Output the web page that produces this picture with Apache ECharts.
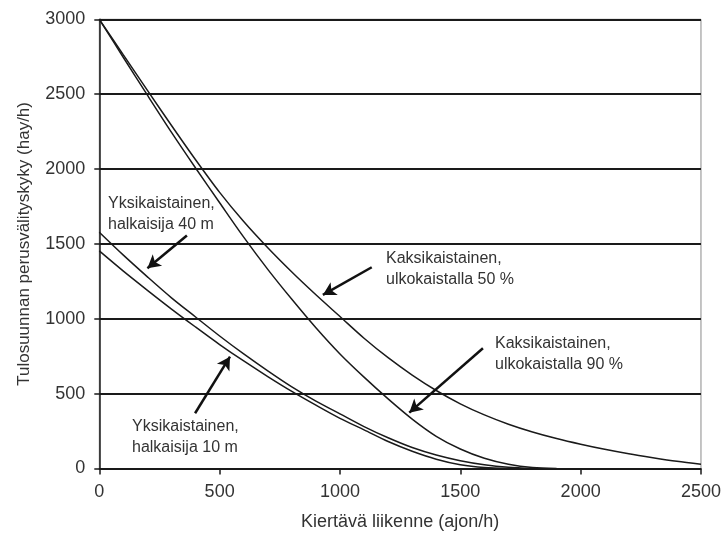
<!DOCTYPE html>
<html>
<head>
<meta charset="utf-8">
<script src="https://cdn.jsdelivr.net/npm/echarts@6/dist/echarts.min.js"></script>
<style>
html,body{margin:0;padding:0;background:#fff;}
#chart{width:724px;height:540px;}
</style>
</head>
<body>
<div id="chart"></div>
<script>
// Kiertävä liikenne (ajon/h)
var xs = [0,100,200,300,400,500,600,700,800,900,1000,1100,1200,1300,1400,1500,1600,1700,1800,1900,2000,2100,2200,2300,2400,2500];
// Kaksikaistainen, ulkokaistalla 50 %
var kaksi50 = [3000,2762,2525,2291,2062,1844,1649,1474,1312,1160,1015,870,740,624,521,432,358,296,244,200,162,128,98,72,48,28];
// Kaksikaistainen, ulkokaistalla 90 %
var kaksi90 = [3000,2745,2493,2245,2007,1775,1545,1330,1130,940,765,610,465,330,215,130,68,28,6,0];
// Yksikaistainen, halkaisija 40 m
var yksi40 = [1578,1425,1280,1140,1012,885,765,652,545,450,365,280,205,140,90,52,25,8,0];
// Yksikaistainen, halkaisija 10 m
var yksi10 = [1453,1318,1190,1065,945,828,718,614,515,423,335,258,180,115,62,25,6,0];

var xTicks = [0,500,1000,1500,2000,2500];
var yTicks = [0,500,1000,1500,2000,2500,3000];

// annotations: text lines and arrow [tail, head] in data units
var notes = [
  {lines:['Yksikaistainen,','halkaisija 40 m'], tail:[364,1556], head:[200,1337]},
  {lines:['Kaksikaistainen,','ulkokaistalla 50 %'], tail:[1132,1344], head:[929,1159]},
  {lines:['Kaksikaistainen,','ulkokaistalla 90 %'], tail:[1594,803], head:[1288,373]},
  {lines:['Yksikaistainen,','halkaisija 10 m'], tail:[398,369], head:[543,747]}
];
var noteText = [
  {x:108, y:205},
  {x:386, y:260},
  {x:495, y:345},
  {x:132, y:428}
];

function pairs(vals){ return vals.map(function(v,i){ return [xs[i], v]; }); }

var font = 'Liberation Sans, Arial, sans-serif';
var chart = echarts.init(document.getElementById('chart'), null, {renderer:'canvas'});

var arrowLines = notes.map(function(n){ return [{coord:n.tail},{coord:n.head}]; });

var lineStyle = {color:'#1a1a1a', width:1.5};
function mk(name, vals, extra){
  var s = {name:name, type:'line', data:pairs(vals), symbol:'none', smooth:0.3,
    lineStyle:lineStyle, silent:true, z:3};
  if (extra) for (var k in extra) s[k]=extra[k];
  return s;
}

var graphics = [];
notes.forEach(function(n, i){
  n.lines.forEach(function(t, j){
    graphics.push({type:'text', left:noteText[i].x, top:noteText[i].y - 9 + j*21,
      style:{text:t, font:'16px ' + font, fill:'#333'}, z:10});
  });
});

chart.setOption({
  animation:false,
  backgroundColor:'#fff',
  grid:{left:99.3, right:22.5, top:19.3, bottom:71.5, show:true, borderColor:'#8a8a8a', borderWidth:1},
  xAxis:{type:'value', min:0, max:2500, interval:500,
    name:'Kiertävä liikenne (ajon/h)', nameLocation:'middle', nameGap:45,
    nameTextStyle:{fontFamily:font, fontSize:18, color:'#333'},
    axisLine:{show:true, onZero:false, lineStyle:{color:'#1a1a1a', width:1.5}},
    axisTick:{show:true, inside:false, length:6, lineStyle:{color:'#1a1a1a', width:1.5}},
    axisLabel:{fontFamily:font, fontSize:18, color:'#333', margin:15,
      formatter:function(v){ return xTicks.indexOf(v)>=0 ? String(v) : ''; }},
    splitLine:{show:false}},
  yAxis:{type:'value', min:0, max:3000, interval:500,
    name:'Tulosuunnan perusvälityskyky (hay/h)', nameLocation:'middle', nameGap:66, nameRotate:90,
    nameTextStyle:{fontFamily:font, fontSize:17, color:'#333'},
    axisLine:{show:true, lineStyle:{color:'#1a1a1a', width:1.5}},
    axisTick:{show:true, inside:false, length:5, lineStyle:{color:'#1a1a1a', width:1.5}},
    axisLabel:{fontFamily:font, fontSize:18, color:'#333', margin:14,
      formatter:function(v){ return yTicks.indexOf(v)>=0 ? String(v) : ''; }},
    splitLine:{show:true, lineStyle:{color:'#1a1a1a', width:1.8}}},
  graphic:graphics,
  series:[
    mk('Kaksikaistainen, ulkokaistalla 50 %', kaksi50, {
      markLine:{silent:true, symbol:['none','arrow'], symbolSize:[11,13], label:{show:false},
        lineStyle:{color:'#111', width:2.5, type:'solid'}, data:arrowLines, z:5}
    }),
    mk('Kaksikaistainen, ulkokaistalla 90 %', kaksi90),
    mk('Yksikaistainen, halkaisija 40 m', yksi40),
    mk('Yksikaistainen, halkaisija 10 m', yksi10)
  ]
});
</script>
</body>
</html>
